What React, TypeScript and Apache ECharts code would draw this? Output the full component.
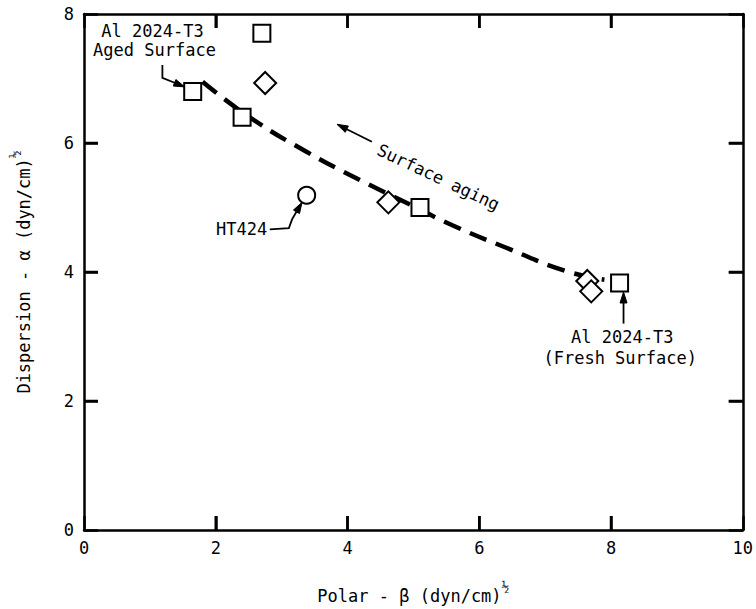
import React, { useEffect, useRef } from "react";
import * as echarts from "echarts";

const squareX = [1.65, 2.4, 2.7, 5.1, 8.13];
const squareY = [6.8, 6.4, 7.7, 5.0, 3.83];
const diamondX = [2.75, 4.62, 7.64, 7.7];
const diamondY = [6.93, 5.08, 3.86, 3.7];
const circleX = [3.38];
const circleY = [5.19];
const curveX = [1.8, 2.5, 3.35, 4.2, 5.0, 5.6, 6.4, 7.3, 7.9];
const curveY = [6.95, 6.41, 5.88, 5.42, 5.02, 4.72, 4.38, 4.02, 3.88];
const xTicks = [0, 2, 4, 6, 8, 10];
const yTicks = [0, 2, 4, 6, 8];

const FONT = "DejaVu Sans Mono";

const zip = (a: number[], b: number[]) => a.map((v, i) => [v, b[i]]);

export default function App() {
  const ref = useRef<HTMLDivElement>(null);
  useEffect(() => {
    if (!ref.current) return;
    const chart = echarts.init(ref.current, null, { renderer: "svg" });
    const axisCommon = {
      axisLine: { show: true, onZero: false, lineStyle: { color: "#000", width: 2.5 } },
      axisTick: { show: true, inside: true, length: 14, lineStyle: { color: "#000", width: 2.5 } },
      splitLine: { show: false },
    };
    const leaders = [
      [[1.19, 7.21], [1.19, 7.01], [1.53, 6.87]],
      [[4.37, 6.02], [3.84, 6.29]],
      [[2.82, 4.66], [3.11, 4.68], [3.16, 4.82], [3.31, 5.08]],
      [[8.19, 3.2], [8.19, 3.69]],
    ];
    const markerStyle = { color: "#fff", borderColor: "#000", borderWidth: 2, opacity: 1 };
    const rich = {
      a: { fontFamily: FONT, fontSize: 17, color: "#000", lineHeight: 24, verticalAlign: "bottom" },
      s: { fontFamily: FONT, fontSize: 13, color: "#000", lineHeight: 24, verticalAlign: "top" },
    };
    chart.setOption({
      animation: false,
      backgroundColor: "#fff",
      grid: { left: 81, top: 14, width: 662, height: 518 },
      xAxis: [
        {
          type: "value", min: 0, max: 10, interval: 2, position: "bottom",
          ...axisCommon,
          axisLabel: { color: "#000", fontFamily: FONT, fontSize: 17, margin: 9, formatter: (v: number) => (xTicks.includes(v) ? String(v) : "") },
          name: "{a|Polar - β (dyn/cm)}{s|½}",
          nameLocation: "middle",
          nameGap: 50,
          nameTextStyle: { rich },
        },
        { type: "value", min: 0, max: 10, interval: 2, position: "top", ...axisCommon, axisLabel: { show: false } },
      ],
      yAxis: [
        {
          type: "value", min: 0, max: 8, interval: 2, position: "left",
          ...axisCommon,
          axisLabel: { color: "#000", fontFamily: FONT, fontSize: 17, margin: 10, formatter: (v: number) => (yTicks.includes(v) ? String(v) : "") },
          name: "{a|Dispersion - α (dyn/cm)}{s|½}",
          nameLocation: "middle",
          nameGap: 52,
          nameTextStyle: { rich },
        },
        { type: "value", min: 0, max: 8, interval: 2, position: "right", ...axisCommon, axisLabel: { show: false } },
      ],
      series: [
        {
          type: "line", data: zip(curveX, curveY), smooth: true, symbol: "none",
          lineStyle: { color: "#000", width: 4.5, type: [18, 10] }, z: 2,
        },
        {
          type: "scatter", data: zip(squareX, squareY), symbol: "rect", symbolSize: 17,
          itemStyle: markerStyle, z: 3,
        },
        {
          type: "scatter", data: zip(diamondX, diamondY), symbol: "diamond", symbolSize: 22,
          itemStyle: markerStyle, z: 3,
        },
        {
          type: "scatter", data: zip(circleX, circleY), symbol: "circle", symbolSize: 17,
          itemStyle: markerStyle, z: 3,
        },
      ],
    });
    const P = (x: number, y: number) => chart.convertToPixel({ gridIndex: 0 }, [x, y]) as number[];
    const txt = (x: number, y: number, s: string, align = "center", rot = 0) => {
      const p = P(x, y);
      return {
        type: "text", x: p[0], y: p[1], rotation: rot,
        style: { text: s, fontFamily: FONT, fontSize: 17, fill: "#000", align, verticalAlign: "middle" },
        z: 10,
      };
    };
    const arrow = (pts: number[][]) => {
      const px = pts.map((q) => P(q[0], q[1]));
      const n = px.length;
      const [x1, y1] = px[n - 2];
      const [x2, y2] = px[n - 1];
      const ang = Math.atan2(y2 - y1, x2 - x1);
      const L = 11, W = 3.5;
      const bx = x2 - L * Math.cos(ang), by = y2 - L * Math.sin(ang);
      const nx = -Math.sin(ang) * W, ny = Math.cos(ang) * W;
      return [
        { type: "polyline", shape: { points: px.slice(0, n - 1).concat([[bx, by]]) }, style: { stroke: "#000", lineWidth: 1.8, fill: null }, z: 9 },
        { type: "polygon", shape: { points: [[x2, y2], [bx + nx, by + ny], [bx - nx, by - ny]] }, style: { fill: "#000", stroke: "#000", lineWidth: 1 }, z: 9 },
      ];
    };
    const ticks: any[] = [];
    const tl = 14;
    xTicks.slice(1, -1).forEach((v) => {
      const b = P(v, 0), t = P(v, 8);
      ticks.push({ type: "line", shape: { x1: b[0], y1: b[1], x2: b[0], y2: b[1] - tl }, style: { stroke: "#000", lineWidth: 2.5 }, z: 8 });
      ticks.push({ type: "line", shape: { x1: t[0], y1: t[1], x2: t[0], y2: t[1] + tl }, style: { stroke: "#000", lineWidth: 2.5 }, z: 8 });
    });
    yTicks.slice(1, -1).forEach((v) => {
      const l = P(0, v), r = P(10, v);
      ticks.push({ type: "line", shape: { x1: l[0], y1: l[1], x2: l[0] + tl, y2: l[1] }, style: { stroke: "#000", lineWidth: 2.5 }, z: 8 });
      ticks.push({ type: "line", shape: { x1: r[0], y1: r[1], x2: r[0] - tl, y2: r[1] }, style: { stroke: "#000", lineWidth: 2.5 }, z: 8 });
    });
    chart.setOption({
      graphic: [
        ...ticks,
        ...leaders.flatMap((c) => arrow(c)),
        txt(1.04, 7.74, "Al 2024-T3"),
        txt(1.07, 7.44, "Aged Surface"),
        txt(2.78, 4.66, "HT424", "right"),
        txt(5.38, 5.47, "Surface aging", "center", -0.44),
        txt(8.17, 3.0, "Al 2024-T3"),
        txt(8.14, 2.66, "(Fresh Surface)"),
      ],
    });
    return () => chart.dispose();
  }, []);
  return <div ref={ref} style={{ position: "absolute", left: 0, top: 0, width: 756, height: 609 }} />;
}
